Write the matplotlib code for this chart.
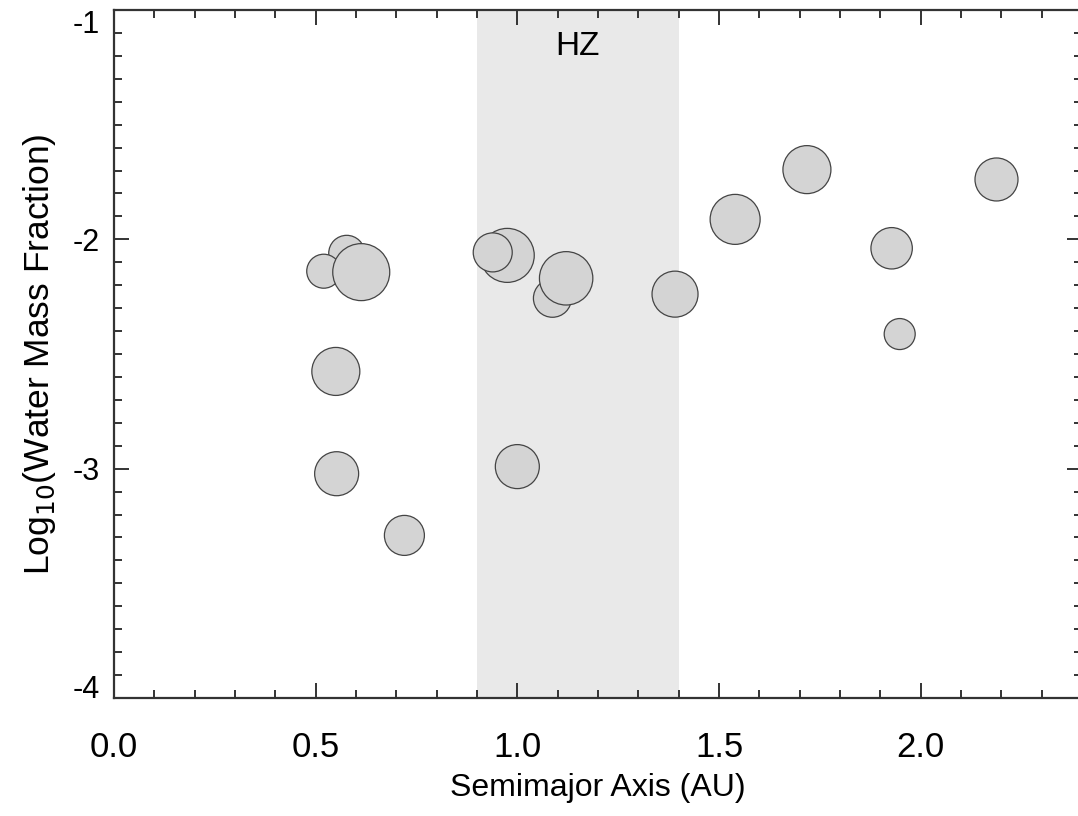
import numpy as np
import matplotlib
matplotlib.use("Agg")
import matplotlib.pyplot as plt
from matplotlib.ticker import MultipleLocator, FormatStrFormatter

plt.rcParams['font.family'] = ['Liberation Sans', 'DejaVu Sans']

# planets: semimajor axis (AU), log10 water mass fraction, relative size
semimajor = [0.577, 0.520, 0.613, 0.550, 0.552, 0.720,
             0.975, 0.939, 1.087, 1.121, 1.000, 1.391,
             1.540, 1.718, 1.928, 1.948, 2.188]
log_water = [-2.061, -2.139, -2.143, -2.576, -3.022, -3.291,
             -2.070, -2.057, -2.257, -2.170, -2.991, -2.239,
             -1.913, -1.696, -2.039, -2.413, -1.739]
planet_size = [18, 17, 28.5, 24, 22, 20,
               27, 19.5, 19, 26.7, 22, 23,
               25, 24, 20.7, 15.5, 21.5]

hz_inner, hz_outer = 0.9, 1.4

fig = plt.figure(figsize=(10.78, 8.16), dpi=100)
ax = fig.add_axes([114/1078, 118/816, 968/1078, 688/816])

ax.axvspan(hz_inner, hz_outer, color='#e9e9e9', lw=0, zorder=0)
ax.text((hz_inner + hz_outer)/2, -1.16, 'HZ', ha='center', va='center', fontsize=24)

# marker diameter in points (1 px = 0.72 pt at dpi 100)
s = [(2*r*0.72)**2 for r in planet_size]
ax.scatter(semimajor, log_water, s=s, facecolor='#d4d4d4', edgecolor='#444444',
           linewidth=0.9, zorder=3)

ax.set_xlim(0, 2.4)
ax.set_ylim(-4, -1)
ax.xaxis.set_major_locator(MultipleLocator(0.5))
ax.xaxis.set_minor_locator(MultipleLocator(0.1))
ax.yaxis.set_major_locator(MultipleLocator(1))
ax.yaxis.set_minor_locator(MultipleLocator(0.1))
ax.xaxis.set_major_formatter(FormatStrFormatter('%.1f'))
ax.yaxis.set_major_formatter(FormatStrFormatter('%d'))

ax.tick_params(which='both', direction='in', top=True, right=True,
               color='#333333', width=1.4)
ax.tick_params(which='major', length=11)
ax.tick_params(which='minor', length=6)
ax.tick_params(axis='x', pad=24, labelsize=25)
ax.tick_params(axis='y', pad=10, labelsize=22)
for sp in ax.spines.values():
    sp.set_linewidth(1.6)
    sp.set_color('#333333')

fig.canvas.draw()
for lab in ax.get_yticklabels():
    if lab.get_text() in ('-1', '−1'):
        lab.set_va('top')
    elif lab.get_text() in ('-4', '−4'):
        lab.set_va('baseline')

ax.set_xlabel('Semimajor Axis (AU)', fontsize=23, labelpad=6)
ax.set_ylabel('Log$_{10}$(Water Mass Fraction)', fontsize=25.5, labelpad=11)

fig.savefig('out.png', dpi=100)
